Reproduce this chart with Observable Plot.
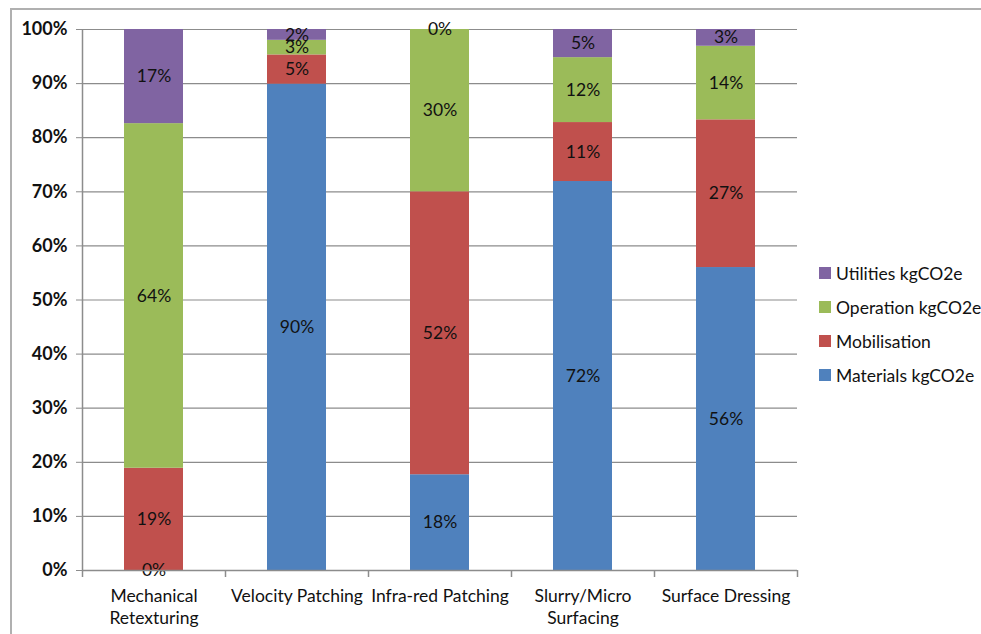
<!DOCTYPE html>
<html>
<head>
<meta charset="utf-8">
<script src="https://cdn.jsdelivr.net/npm/d3@7"></script>
<script src="https://cdn.jsdelivr.net/npm/@observablehq/plot@0.6"></script>
<style>
  html, body { margin: 0; padding: 0; background: #fff; }
  #wrap { position: relative; width: 981px; height: 634px; overflow: hidden; font-family: Lato, "Open Sans", sans-serif; }
  #frame { position: absolute; left: 10px; top: 8px; width: 1000px; height: 700px; border-top: 2px solid #b0b0b0; border-left: 2px solid #b0b0b0; }
  #chart { position: absolute; left: 0; top: 0; }
  #legend { position: absolute; left: 819px; top: 256px; font-size: 17.5px; color: #111; white-space: nowrap; }
  #legend .item { display: flex; align-items: center; height: 34px; }
  #legend .sw { width: 12px; height: 12px; margin-right: 5px; }
</style>
</head>
<body>
<div id="wrap">
  <div id="frame"></div>
  <div id="chart"></div>
  <div id="legend"></div>
</div>
<script>
const categories = ["Mechanical\nRetexturing", "Velocity Patching", "Infra-red Patching", "Slurry/Micro\nSurfacing", "Surface Dressing"];
const seriesNames = ["Materials kgCO2e", "Mobilisation", "Operation kgCO2e", "Utilities kgCO2e"];
const seriesColors = ["#4F81BD", "#C0504D", "#9BBB59", "#8064A2"];
const materials   = [0.0, 89.9, 17.7, 71.9, 56.0];
const mobilisation = [18.9, 5.4, 52.3, 10.9, 27.3];
const operation   = [63.7, 2.7, 30.0, 12.0, 13.6];
const utilities   = [17.4, 2.0, 0.0, 5.2, 3.1];
const yTicks = [0, 10, 20, 30, 40, 50, 60, 70, 80, 90, 100];

const seriesValues = [materials, mobilisation, operation, utilities];
const rows = [];
categories.forEach((c, i) => {
  seriesNames.forEach((s, j) => {
    rows.push({category: c, series: s, value: seriesValues[j][i], order: j});
  });
});

const font = "Lato, 'Open Sans', sans-serif";
const step = (797 - 82) / categories.length;

const chart = Plot.plot({
  width: 981,
  height: 634,
  marginLeft: 82,
  marginRight: 184,
  marginTop: 29,
  marginBottom: 64,
  style: {fontFamily: font, fontSize: "17px", color: "#111", background: "transparent"},
  x: {domain: categories, paddingInner: 0.59, paddingOuter: 0.295, label: null},
  y: {domain: [0, 100], label: null},
  color: {domain: seriesNames, range: seriesColors},
  marks: [
    Plot.gridY(yTicks, {stroke: "#8c8c8c", strokeOpacity: 1, strokeWidth: 1.2}),
    Plot.axisY(yTicks, {tickFormat: d => d + "%", tickSize: 6, stroke: "#8c8c8c", fontWeight: "bold", fontSize: 18, tickPadding: 9, fill: "#111"}),
    Plot.barY(rows, Plot.stackY({x: "category", y: "value", fill: "series", order: "order"})),
    Plot.text(rows, Plot.stackY({x: "category", y: "value", z: "series", order: "order", text: d => Math.round(d.value) + "%", fill: "#111", fontSize: 17.5})),
    Plot.ruleY([0], {stroke: "#8c8c8c", strokeWidth: 1.5}),
    Plot.ruleX(categories, {x: d => d, dx: -step / 2, y1: 0, y2: 100, stroke: (d, i) => i === 0 ? "#8c8c8c" : "none", strokeWidth: 1.5}),
    Plot.ruleX(categories, {x: d => d, dx: -step / 2, y1: 0, y2: 0, insetBottom: -7, stroke: "#8c8c8c", strokeWidth: 1.5}),
    Plot.ruleX(categories.slice(-1), {x: d => d, dx: step / 2, y1: 0, y2: 0, insetBottom: -7, stroke: "#8c8c8c", strokeWidth: 1.5}),
    Plot.axisX({tickSize: 0, tickPadding: 15, fontSize: 17.5, fill: "#111", lineHeight: 1.3})
  ]
});
document.getElementById("chart").appendChild(chart);

const legend = document.getElementById("legend");
seriesNames.slice().reverse().forEach((s) => {
  const i = seriesNames.indexOf(s);
  const item = document.createElement("div");
  item.className = "item";
  const sw = document.createElement("div");
  sw.className = "sw";
  sw.style.background = seriesColors[i];
  const t = document.createElement("span");
  t.textContent = s;
  item.appendChild(sw);
  item.appendChild(t);
  legend.appendChild(item);
});
</script>
</body>
</html>
